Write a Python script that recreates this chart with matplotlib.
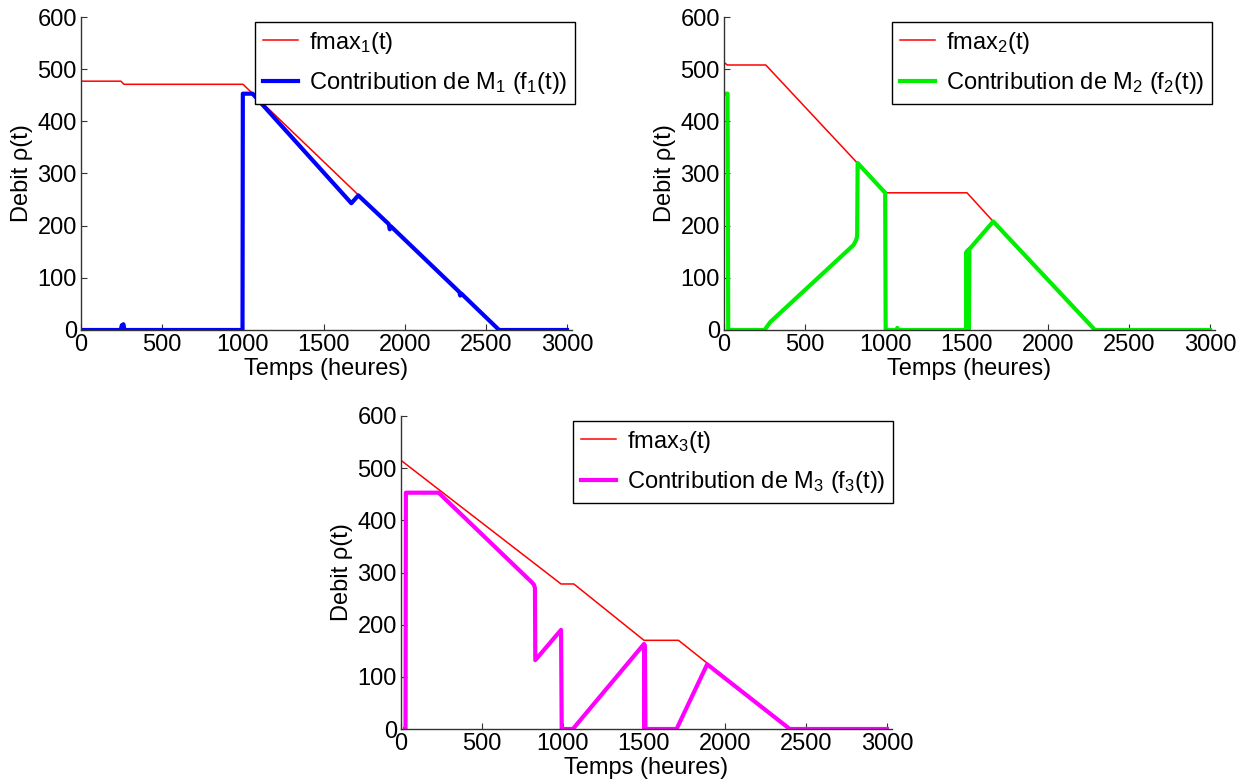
import matplotlib
matplotlib.use('Agg')
import matplotlib.pyplot as plt

plt.rcParams['font.family'] = ['Liberation Sans', 'DejaVu Sans']
plt.rcParams['mathtext.fontset'] = 'custom'
plt.rcParams['mathtext.rm'] = 'Liberation Sans'
plt.rcParams['mathtext.it'] = 'Liberation Sans'

# machine 1
t_fmax1 = [0, 246, 265, 1000, 2581, 3000]
fmax1 = [477, 477, 471, 471, 0, 0]
t_f1 = [0, 245, 252, 262, 268, 997, 999, 1059, 1669, 1712, 1900, 1906, 1912,
        2335, 2341, 2347, 2581, 3000]
f1 = [0, 0, 9, 11, 0, 0, 453, 453, 243, 258, 203, 193, 199,
      73, 66, 70, 0, 0]

# machine 2
t_fmax2 = [0, 20, 258, 995, 1500, 1662, 2290, 3000]
fmax2 = [513, 508, 508, 263, 263, 208, 0, 0]
t_f2 = [0, 22, 26, 250, 262, 285, 800, 815, 822, 825, 995, 998, 1066, 1070,
        1075, 1495, 1497, 1500, 1503, 1506, 1509, 1512, 1515, 1662, 2290, 3000]
f2 = [453, 453, 0, 0, 5, 15, 163, 172, 180, 320, 263, 0, 0, 4,
      0, 0, 150, 0, 152, 0, 154, 0, 155, 208, 0, 0]

# machine 3
t_fmax3 = [0, 988, 1067, 1500, 1713, 2400, 3000]
fmax3 = [515, 278, 278, 170, 170, 0, 0]
t_f3 = [25, 28, 30, 232, 805, 820, 827, 829, 988, 992, 1061, 1500, 1503,
        1506, 1509, 1701, 1890, 2400, 3000]
f3 = [0, 0, 453, 453, 282, 277, 270, 132, 190, 0, 0, 163, 0,
      160, 0, 0, 124, 0, 0]

xticks = [0, 500, 1000, 1500, 2000, 2500, 3000]
yticks = [0, 100, 200, 300, 400, 500, 600]

fig = plt.figure(figsize=(12.46, 7.83), dpi=100)
W, H = 1246.0, 783.0
FS = 17


def make_axes(x0, x1, ytop, ybot):
    return fig.add_axes([x0 / W, 1 - ybot / H, (x1 - x0) / W, (ybot - ytop) / H])


def draw(ax, tm, fm, t, f, color, idx, leg_right, leg_top):
    ax.plot(tm, fm, color='red', lw=1.1, label='fmax$_%d$(t)' % idx)
    ax.plot(t, f, color=color, lw=3.0,
            label='Contribution de M$_%d$ (f$_%d$(t))' % (idx, idx))
    ax.set_xlim(0, 3031)
    ax.set_ylim(0, 600)
    ax.set_xticks(xticks)
    ax.set_yticks(yticks)
    for s in ['top', 'right']:
        ax.spines[s].set_visible(False)
    for s in ['left', 'bottom']:
        ax.spines[s].set_color('0.2')
        ax.spines[s].set_linewidth(1.0)
    ax.tick_params(direction='in', length=4, width=0.8, color='0.2',
                   labelsize=FS, pad=3)
    ax.set_xlabel('Temps (heures)', fontsize=FS, labelpad=1)
    ax.set_ylabel('Debit ρ(t)', fontsize=FS, labelpad=3)
    leg = ax.legend(loc='upper right', bbox_to_anchor=(leg_right / W, 1 - leg_top / H),
                    bbox_transform=fig.transFigure, fontsize=FS, frameon=True,
                    fancybox=False, edgecolor='black', framealpha=1,
                    handlelength=1.5, handletextpad=0.45, labelspacing=0.62,
                    borderpad=0.32, borderaxespad=0)
    leg.get_frame().set_linewidth(1.0)


ax1 = make_axes(81, 572, 17, 330)
draw(ax1, t_fmax1, fmax1, t_f1, f1, 'blue', 1, 575, 22)

ax2 = make_axes(724, 1215, 17, 330)
draw(ax2, t_fmax2, fmax2, t_f2, f2, '#00ee00', 2, 1212, 22)

ax3 = make_axes(401, 892, 416, 729)
draw(ax3, t_fmax3, fmax3, t_f3, f3, '#ff00ff', 3, 893, 421)

fig.savefig('out.png', dpi=100)
